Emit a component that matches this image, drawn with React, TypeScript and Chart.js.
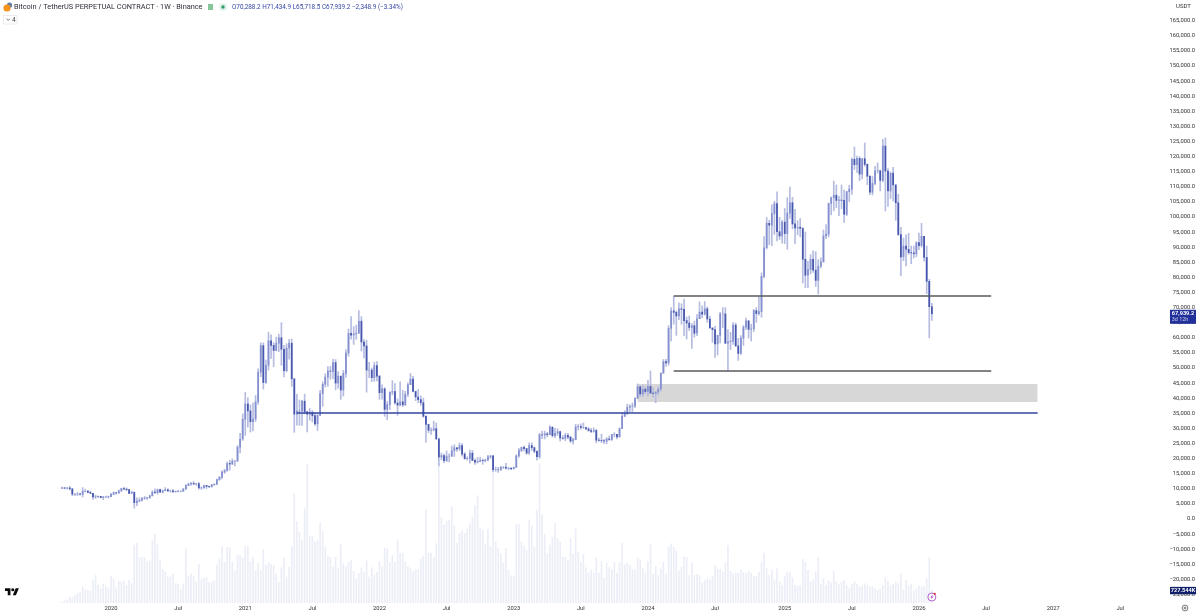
import React, { useEffect, useRef } from "react";
import { Chart, registerables } from "chart.js";

Chart.register(...registerables);

// weekly bars, first week starts 2019-08-26; prices in thousands of USDT
const firstWeek = "2019-08-26";
const opens = [
  10.2,10.3,10.2,10.3,10.0,8.2,8.2,8.3,8.2,9.2,
  9.2,8.8,8.5,7.3,7.4,7.5,7.1,7.3,7.3,7.4,
  8.2,8.7,8.6,9.3,10.1,9.9,9.7,8.5,8.9,5.4,
  5.9,6.2,6.8,6.9,7.1,7.7,8.9,8.7,9.7,8.9,
  9.4,9.7,9.3,9.3,9.0,9.1,9.2,9.2,9.9,11.1,
  11.6,11.8,11.6,11.7,10.3,10.3,11.1,10.8,10.7,11.3,
  11.5,13.0,13.8,15.5,16.0,18.4,18.2,19.2,19.2,23.8,
  26.5,33.0,38.1,35.8,32.2,33.1,38.8,48.6,57.4,45.2,
  50.9,59.0,57.5,55.8,58.2,60.0,56.2,49.1,56.6,58.2,
  46.4,34.7,35.7,35.8,39.0,35.5,34.7,35.3,34.2,31.5,
  34.3,41.5,44.6,47.0,49.0,48.9,51.8,45.0,47.3,42.7,
  48.2,54.9,61.5,60.9,61.3,61.5,65.5,58.6,57.3,49.3,
  49.3,46.8,50.8,47.3,41.8,43.1,36.3,37.9,42.0,42.2,
  38.4,37.7,38.8,37.8,41.3,44.5,46.3,42.2,40.4,39.5,
  38.5,34.0,31.3,29.4,29.4,29.9,26.5,20.5,21.0,19.3,
  20.8,20.8,22.6,23.6,23.2,24.3,21.5,20.0,20.0,21.8,
  19.4,18.8,19.0,19.4,19.3,19.6,20.6,20.9,16.3,16.3,
  16.4,17.1,17.1,16.8,16.8,16.6,17.1,20.9,22.7,23.7,
  23.3,21.8,24.3,23.6,22.4,20.6,27.9,27.8,28.2,27.9,
  30.4,27.6,28.4,28.9,26.8,26.7,27.7,27.1,25.8,26.3,
  30.5,30.6,30.3,30.3,29.8,29.3,29.0,29.3,26.1,26.0,
  25.9,25.8,26.5,26.3,28.0,28.0,27.2,29.9,34.0,35.0,
  37.0,37.3,37.4,39.9,43.8,41.4,43.0,42.2,43.9,41.7,
  41.6,42.0,43.0,48.3,52.1,51.7,63.1,68.9,68.4,67.2,
  69.6,69.4,65.7,64.9,63.4,64.0,61.5,66.3,68.5,67.8,
  69.6,66.2,63.2,62.7,58.0,60.8,67.9,67.9,58.2,58.7,
  58.9,64.2,57.3,54.8,59.9,63.5,65.6,62.8,62.9,69.0,
  68.0,68.7,80.3,89.8,97.9,97.3,101.1,104.4,95.1,93.7,
  98.3,94.5,101.3,104.7,97.7,96.4,96.6,96.2,86.0,80.7,
  82.6,86.0,82.4,79.0,83.7,85.1,93.7,94.3,104.5,106.4,
  107.2,105.5,105.6,105.5,100.9,108.4,109.2,119.1,117.3,119.4,
  114.2,119.3,117.4,113.5,108.2,111.1,115.3,115.3,112.1,123.5,
  115.2,108.6,114.5,110.6,104.7,94.2,86.8,90.4,89.3,88.2,
  88.1,87.8,91.5,90.5,93.6,86.6,78.7,70.2882,
];
const highs = [
  10.6,10.5,10.4,10.8,10.0,8.5,8.8,8.4,10.4,9.9,
  9.5,9.3,8.5,7.9,7.7,7.5,7.5,7.6,7.6,8.5,
  9.0,8.8,9.6,10.2,10.5,10.3,9.8,9.2,8.2,7.0,
  7.0,7.2,7.5,7.2,7.8,9.4,10.0,9.9,9.9,9.6,
  10.4,10.0,9.6,9.8,9.3,9.5,9.4,10.2,11.4,11.9,
  12.1,12.4,11.8,12.1,10.7,11.2,11.1,10.9,11.5,11.7,
  13.2,14.1,16.0,16.5,18.9,19.4,19.9,19.4,24.3,28.4,
  34.8,41.9,40.1,37.8,38.5,40.9,49.7,58.3,58.3,52.6,
  61.8,61.0,58.4,60.2,61.2,65.0,57.5,58.0,59.5,59.6,
  46.5,41.3,39.4,39.3,41.3,35.7,36.6,35.9,35.0,34.8,
  42.6,45.4,48.1,50.5,50.5,52.9,52.8,48.8,47.3,49.2,
  56.1,62.9,67.0,63.7,64.2,69.0,67.0,59.4,59.2,51.9,
  50.0,51.9,52.1,47.5,44.4,43.5,38.9,42.1,45.8,44.8,
  39.8,45.4,42.6,42.3,45.1,48.2,47.2,42.4,42.9,40.8,
  40.0,34.2,31.4,30.2,32.4,31.8,26.8,21.8,21.5,22.5,
  21.6,24.2,24.6,23.7,25.2,25.0,22.0,20.6,22.8,22.7,
  19.9,20.4,20.5,19.9,19.7,21.1,21.0,21.0,17.2,17.1,
  17.4,17.4,18.4,17.1,17.0,17.2,21.3,23.4,23.8,24.2,
  23.4,25.2,25.2,23.9,22.6,28.4,29.1,29.1,28.7,30.9,
  30.5,30.0,29.9,29.1,27.6,28.4,28.4,27.4,26.8,31.4,
  31.3,31.5,31.8,30.4,30.3,30.0,30.2,29.7,26.8,28.1,
  26.4,26.9,27.5,28.0,28.6,28.0,30.2,35.2,35.9,38.0,
  37.9,38.4,40.2,44.7,44.0,44.3,43.8,45.9,49.0,43.5,
  42.2,43.9,48.3,52.8,52.9,64.0,70.0,73.8,68.9,71.6,
  71.3,72.8,66.9,67.2,64.7,65.5,67.7,71.9,70.6,72.0,
  70.2,67.2,63.4,63.8,60.9,68.4,70.0,70.0,62.7,61.8,
  65.0,64.9,59.8,60.7,64.1,66.5,65.7,64.5,69.4,70.0,
  73.6,81.5,93.5,99.8,98.9,104.0,105.2,108.3,99.9,98.9,
  102.8,106.4,109.9,106.5,102.5,98.8,99.5,96.5,95.0,85.3,
  87.5,88.8,88.5,85.9,86.5,95.7,97.5,104.6,106.6,111.9,
  110.6,106.8,110.6,108.9,108.5,110.5,119.5,123.2,120.2,120.0,
  119.3,124.5,117.6,113.5,113.4,116.8,117.9,115.5,125.7,126.2,
  116.0,114.9,116.4,110.7,107.5,96.6,93.0,94.1,94.6,90.4,
  90.4,91.8,94.7,97.9,93.6,90.4,79.4,71.4349,
];
const lows = [
  10.0,10.0,9.9,9.6,7.7,7.7,7.8,7.9,7.3,9.0,
  8.7,8.4,6.5,6.8,7.1,7.0,6.4,7.1,6.9,7.4,
  8.0,8.2,8.5,9.1,9.7,9.3,8.4,8.4,3.6,4.4,
  5.7,5.9,6.5,6.5,6.8,7.6,8.5,8.2,8.8,8.6,
  9.3,9.1,8.9,8.9,8.9,9.0,9.0,9.1,9.9,11.0,
  11.1,11.4,11.1,9.9,9.8,10.2,10.1,10.4,10.5,11.2,
  11.4,12.8,13.3,15.1,15.8,16.2,18.0,17.6,19.0,21.9,
  26.0,27.7,30.4,28.8,29.2,32.3,37.9,47.1,43.0,44.9,
  49.3,53.2,50.4,55.7,55.4,50.9,47.0,48.7,52.9,43.9,
  28.7,31.1,31.0,31.0,34.8,28.8,32.7,32.1,31.0,29.3,
  34.3,37.3,43.7,43.9,46.3,46.5,42.8,43.3,39.6,40.7,
  46.9,53.9,59.5,57.8,59.5,61.5,55.6,53.3,42.0,46.8,
  45.5,45.6,45.7,39.6,39.7,34.0,32.9,36.2,41.1,38.0,
  34.3,37.4,37.2,37.6,40.5,44.5,42.1,39.2,38.5,37.6,
  33.7,25.4,28.6,28.0,29.2,26.4,17.6,19.6,18.6,19.0,
  18.9,20.7,20.7,22.4,22.7,20.8,19.8,19.5,18.5,19.3,
  18.1,18.5,19.0,18.1,18.9,19.2,20.0,15.6,15.8,15.4,
  16.0,16.7,16.5,16.3,16.3,16.6,17.1,20.4,22.3,22.5,
  21.4,21.4,22.7,21.9,19.5,20.1,26.6,26.5,27.2,27.9,
  27.1,26.9,27.7,25.8,26.4,25.9,26.5,25.3,24.8,26.2,
  29.5,29.7,30.0,29.5,29.0,28.6,28.7,25.2,25.8,25.3,
  24.9,24.9,26.0,26.0,27.2,26.5,27.1,29.9,33.9,34.5,
  35.5,35.6,36.9,39.9,40.5,40.5,41.4,40.7,41.5,40.3,
  38.5,41.0,42.3,48.2,50.5,50.9,59.0,64.5,60.8,66.0,
  64.5,60.7,59.6,62.4,56.5,60.2,60.7,66.3,66.6,67.5,
  65.1,63.4,58.5,53.5,54.3,58.3,63.4,58.0,49.0,56.1,
  57.8,57.2,52.5,54.5,57.5,62.7,59.9,58.9,62.0,65.1,
  67.5,66.8,79.8,89.4,90.8,90.5,94.2,92.1,92.5,91.3,
  91.2,89.3,99.5,96.1,91.2,94.1,93.4,78.2,76.6,76.6,
  81.1,81.6,77.0,74.5,83.1,85.1,92.8,93.4,100.7,102.0,
  103.1,100.4,102.7,98.2,100.4,105.1,107.5,115.7,114.7,112.0,
  112.6,116.8,110.7,107.4,107.3,110.6,114.5,108.6,111.6,102.0,
  103.5,106.1,105.3,98.9,93.8,80.6,85.5,83.8,87.6,84.5,
  86.4,86.8,89.2,90.0,85.4,74.6,60.0,65.7185,
];
const closes = [
  10.3,10.2,10.3,10.0,8.2,8.2,8.3,8.2,9.2,9.2,
  8.8,8.5,7.3,7.4,7.5,7.1,7.3,7.3,7.4,8.2,
  8.7,8.6,9.3,10.1,9.9,9.7,8.5,8.9,5.4,5.9,
  6.2,6.8,6.9,7.1,7.7,8.9,8.7,9.7,8.9,9.4,
  9.7,9.3,9.3,9.0,9.1,9.2,9.2,9.9,11.1,11.6,
  11.8,11.6,11.7,10.3,10.3,11.1,10.8,10.7,11.3,11.5,
  13.0,13.8,15.5,16.0,18.4,18.2,19.2,19.2,23.8,26.5,
  33.0,38.1,35.8,32.2,33.1,38.8,48.6,57.4,45.2,50.9,
  59.0,57.5,55.8,58.2,60.0,56.2,49.1,56.6,58.2,46.4,
  34.7,35.7,35.8,39.0,35.5,34.7,35.3,34.2,31.5,34.3,
  41.5,44.6,47.0,49.0,48.9,51.8,45.0,47.3,42.7,48.2,
  54.9,61.5,60.9,61.3,61.5,65.5,58.6,57.3,49.3,49.3,
  46.8,50.8,47.3,41.8,43.1,36.3,37.9,42.0,42.2,38.4,
  37.7,38.8,37.8,41.3,44.5,46.3,42.2,40.4,39.5,38.5,
  34.0,31.3,29.4,29.4,29.9,26.5,20.5,21.0,19.3,20.8,
  20.8,22.6,23.6,23.2,24.3,21.5,20.0,20.0,21.8,19.4,
  18.8,19.0,19.4,19.3,19.6,20.6,20.9,16.3,16.3,16.4,
  17.1,17.1,16.8,16.8,16.6,17.1,20.9,22.7,23.7,23.3,
  21.8,24.3,23.6,22.4,20.6,27.9,27.8,28.2,27.9,30.4,
  27.6,28.4,28.9,26.8,26.7,27.7,27.1,25.8,26.3,30.5,
  30.6,30.3,30.3,29.8,29.3,29.0,29.3,26.1,26.0,25.9,
  25.8,26.5,26.3,28.0,28.0,27.2,29.9,34.0,35.0,37.0,
  37.3,37.4,39.9,43.8,41.4,43.0,42.2,43.9,41.7,41.6,
  42.0,43.0,48.3,52.1,51.7,63.1,68.9,68.4,67.2,69.6,
  69.4,65.7,64.9,63.4,64.0,61.5,66.3,68.5,67.8,69.6,
  66.2,63.2,62.7,58.0,60.8,67.9,67.9,58.2,58.7,58.9,
  64.2,57.3,54.8,59.9,63.5,65.6,62.8,62.9,69.0,68.0,
  68.7,80.3,89.8,97.9,97.3,101.1,104.4,95.1,93.7,98.3,
  94.5,101.3,104.7,97.7,96.4,96.6,96.2,86.0,80.7,82.6,
  86.0,82.4,79.0,83.7,85.1,93.7,94.3,104.5,106.4,107.2,
  105.5,105.6,105.5,100.9,108.4,109.2,119.1,117.3,119.4,114.2,
  119.3,117.4,113.5,108.2,111.1,115.3,115.3,112.1,123.5,115.2,
  108.6,114.5,110.6,104.7,94.2,86.8,90.4,89.3,88.2,88.1,
  87.8,91.5,90.5,93.6,86.6,78.7,70.3,67.9392,
];
// weekly volume in millions
const volumes = [
  .06,.12,.19,.35,.31,.44,.54,.60,.93,.77,
  .73,.69,1.31,1.60,1.02,.83,1.08,.97,.83,1.56,
  1.41,.89,1.25,1.22,1.27,1.02,1.31,1.12,3.36,3.47,
  2.62,2.66,2.62,2.37,2.43,3.63,3.98,3.40,2.51,1.93,
  1.79,1.51,1.54,1.70,1.12,1.08,.77,1.12,3.15,1.54,
  1.70,1.56,1.22,2.24,1.35,1.45,1.47,1.18,1.22,1.31,
  2.20,2.59,3.28,2.37,3.24,3.20,2.37,1.85,2.78,2.74,
  2.62,3.28,3.28,2.41,2.66,1.89,2.30,1.89,3.11,2.18,
  2.34,2.24,2.20,1.66,1.18,2.05,2.59,1.51,2.08,3.28,
  6.33,4.73,4.11,3.63,5.52,8.07,3.86,3.90,3.53,3.63,
  4.65,4.17,3.24,2.70,2.66,2.08,2.66,1.99,3.40,2.28,
  2.08,2.35,2.47,1.83,1.41,1.70,2.05,1.76,2.47,1.51,
  2.05,1.60,1.79,2.41,2.12,3.20,3.15,2.37,2.76,2.37,
  3.67,2.90,2.90,2.37,2.12,1.99,1.83,1.93,1.93,2.53,
  2.72,5.40,2.90,2.90,2.66,3.44,8.41,4.94,4.54,4.75,
  4.79,5.60,4.46,3.47,4.05,4.21,4.05,4.30,4.59,4.98,
  5.65,6.23,4.30,4.21,3.38,4.27,3.28,7.71,3.57,3.17,
  2.86,2.32,3.17,1.89,1.58,1.58,4.54,4.55,3.53,3.28,
  3.05,4.83,4.46,3.24,5.40,8.07,5.13,3.98,2.86,3.36,
  3.82,4.63,3.73,3.53,2.66,2.66,2.47,3.76,2.86,4.30,
  2.95,2.37,2.82,2.05,1.74,1.93,1.74,2.61,1.74,2.43,
  1.45,2.32,2.05,1.93,2.37,1.74,2.37,3.47,2.24,2.32,
  2.18,1.93,1.93,2.61,2.51,1.99,1.79,2.41,3.38,1.66,
  2.12,1.60,1.99,2.37,1.66,3.28,3.44,3.24,3.01,1.85,
  2.08,2.66,2.66,1.60,2.32,1.60,1.66,1.60,1.16,1.31,
  1.41,1.35,1.54,2.18,1.97,1.95,1.79,2.32,3.34,1.85,
  1.70,1.74,1.74,1.93,1.79,1.70,1.83,1.74,1.54,1.54,
  1.79,2.37,2.90,1.99,1.60,1.89,1.35,1.99,1.22,1.02,
  1.54,1.79,1.79,1.49,1.02,.97,1.02,2.53,2.37,1.89,
  1.22,1.31,1.79,2.66,1.08,1.41,1.02,1.31,1.16,1.83,
  1.22,1.08,1.22,1.31,1.02,.83,1.08,1.22,1.08,.93,
  .97,1.12,1.02,.93,.93,.83,.73,.83,1.02,1.47,
  1.27,1.02,1.08,1.22,1.12,1.70,.77,1.31,1.00,1.08,
  .69,.83,.97,.93,.97,1.41,2.66,.7275,
];

const xTickDates = ["2020-01-06","2020-07-06","2021-01-04","2021-07-05","2022-01-03","2022-07-04","2023-01-02","2023-07-03","2024-01-01","2024-07-01","2025-01-06","2025-07-07","2026-01-05","2026-07-06","2027-01-04","2027-07-05"];
const xTickLabels = ["2020","Jul","2021","Jul","2022","Jul","2023","Jul","2024","Jul","2025","Jul","2026","Jul","2027","Jul"];
const yTicks = [165000,160000,155000,150000,145000,140000,135000,130000,125000,120000,115000,110000,105000,100000,95000,90000,85000,80000,75000,70000,65000,60000,55000,50000,45000,40000,35000,30000,25000,20000,15000,10000,5000,0,-5000,-10000,-15000,-20000,-25000];

const levelA = { price: 73840, from: "2024-03-11", to: "2026-07-20" };
const levelB = { price: 49000, from: "2024-03-11", to: "2026-07-20" };
const levelC = { price: 35100, from: "2021-05-24", to: "2026-11-23" };
const zone = { top: 44700, bottom: 38740, from: "2023-12-04", to: "2026-11-23" };

const titleText = "Bitcoin / TetherUS PERPETUAL CONTRACT · 1W · Binance";
const ohlcText = "O70,288.2 H71,434.9 L65,718.5 C67,939.2 −2,348.9 (−3.34%)";
const lastPrice = 67939.2;
const lastPriceText = "67,939.2";
const countdownText = "3d 12h";
const lastVolume = 0.7275;
const lastVolumeText = "727.544K";
const currencyText = "USDT";
const studyCountText = "4";

const weekOf = (d: string) => (Date.parse(d) - Date.parse(firstWeek)) / (7 * 864e5);
const fmt = (v: number) => (v < 0 ? "−" : "") + Math.abs(v).toLocaleString("en-US", { minimumFractionDigits: 1, maximumFractionDigits: 1 });
const FONT = "Roboto, 'Noto Sans', sans-serif";

const overlayPlugin = {
  id: "tvOverlay",
  afterDraw(chart: any) {
    const c = chart.ctx as CanvasRenderingContext2D;
    const y = chart.scales.y;
    const v = chart.scales.y1;
    const x = chart.scales.x;
    c.save();
    c.textBaseline = "middle";
    // symbol icon
    c.fillStyle = "#5b7fa6";
    c.beginPath(); c.arc(9.5, 5.2, 2.6, 0, 7); c.fill();
    c.fillStyle = "#f7931a";
    c.beginPath(); c.arc(7, 8, 3.6, 0, 7); c.fill();
    // title
    c.textAlign = "left";
    c.font = `7.35px ${FONT}`;
    c.fillStyle = "#2a2e39";
    c.fillText(titleText, 14, 7.5);
    c.fillStyle = "#86c79a";
    c.fillRect(208, 4, 5, 6);
    c.fillStyle = "#e3f3ea";
    c.beginPath(); c.arc(223, 7, 4, 0, 7); c.fill();
    c.fillStyle = "#2e9e6b";
    c.beginPath(); c.arc(223, 7, 1.7, 0, 7); c.fill();
    c.font = `6.35px ${FONT}`;
    c.fillStyle = "#3346a6";
    c.fillText(ohlcText, 232, 7.5);
    // collapse box
    c.strokeStyle = "#e4e6ec";
    c.lineWidth = 0.8;
    c.strokeRect(3.5, 15.5, 13.5, 8.5);
    c.strokeStyle = "#555";
    c.beginPath(); c.moveTo(6.5, 18.7); c.lineTo(8.2, 20.4); c.lineTo(9.9, 18.7); c.stroke();
    c.fillStyle = "#444";
    c.font = `6.5px ${FONT}`;
    c.fillText(studyCountText, 12, 20);
    // currency
    c.fillStyle = "#333";
    c.font = `6px ${FONT}`;
    c.fillText(currencyText, 1176, 6.5);
    // last price label
    const py = y.getPixelForValue(lastPrice);
    c.fillStyle = "#21309a";
    c.fillRect(1170, py - 4, 26, 14);
    c.textAlign = "center";
    c.fillStyle = "#ffffff";
    c.font = `bold 5.6px ${FONT}`;
    c.fillText(lastPriceText, 1183, py);
    c.fillStyle = "#cdd3ee";
    c.font = `5.4px ${FONT}`;
    c.fillText(countdownText, 1180, py + 6);
    // last volume label
    const vy = v.getPixelForValue(lastVolume);
    c.fillStyle = "#10206a";
    c.fillRect(1170, vy - 3.6, 26, 7.4);
    c.fillStyle = "#ffffff";
    c.font = `bold 5.6px ${FONT}`;
    c.fillText(lastVolumeText, 1183, vy + 0.2);
    // logo
    c.save();
    c.translate(5, 586.6);
    c.scale(0.39, 0.39);
    c.fillStyle = "#0b0b0f";
    c.fill(new Path2D("M14 22H7V11H0V4h14v18zM28 22h-8l7.5-18h8L28 22z"));
    c.beginPath(); c.arc(20, 8, 4, 0, 7); c.fill();
    c.restore();
    // settings icon
    c.strokeStyle = "#444";
    c.lineWidth = 0.7;
    c.beginPath(); c.arc(1185, 608, 2.9, 0, 7); c.stroke();
    c.beginPath(); c.arc(1185, 608, 1, 0, 7); c.stroke();
    // event marker on the last bar
    const mx = x.getPixelForValue(closes.length - 1);
    c.fillStyle = "#ffffff";
    c.beginPath(); c.arc(mx, 597, 4.2, 0, 7); c.fill();
    c.strokeStyle = "#a94fc7";
    c.lineWidth = 0.9;
    c.beginPath(); c.arc(mx, 597, 4, 0, 7); c.stroke();
    c.fillStyle = "#a94fc7";
    c.beginPath(); c.moveTo(mx + 0.8, 594.4); c.lineTo(mx - 1.6, 597.4); c.lineTo(mx - 0.1, 597.4); c.lineTo(mx - 0.8, 599.6); c.lineTo(mx + 1.6, 596.6); c.lineTo(mx + 0.1, 596.6); c.closePath(); c.fill();
    c.fillStyle = "#e5333b";
    c.beginPath(); c.arc(mx + 2.9, 593.8, 1.1, 0, 7); c.fill();
    c.restore();
  },
};

export default function App() {
  const ref = useRef<HTMLCanvasElement>(null);
  useEffect(() => {
    const idx = closes.map((_, i) => i);
    const flat = (price: number, from: string, to: string) => [
      { x: weekOf(from), y: price },
      { x: weekOf(to), y: price },
    ];
    const lineStyle = { type: "line" as const, pointRadius: 0, fill: false, tension: 0, yAxisID: "y" };
    const chart = new Chart(ref.current!, {
      type: "bar",
      data: {
        datasets: [
          {
            ...lineStyle, label: "levelA", data: flat(levelA.price, levelA.from, levelA.to),
            borderColor: "#5a5a5e", borderWidth: 1.6, order: 0,
          },
          {
            ...lineStyle, label: "levelB", data: flat(levelB.price, levelB.from, levelB.to),
            borderColor: "#5a5a5e", borderWidth: 1.6, order: 0,
          },
          {
            ...lineStyle, label: "levelC", data: flat(levelC.price, levelC.from, levelC.to),
            borderColor: "#34459f", borderWidth: 1.3, order: 0,
          },
          {
            type: "bar", label: "bodies", yAxisID: "y", order: 1, grouped: false, barThickness: 1.1,
            data: idx.map((i) => ({ x: i, y: [Math.min(opens[i], closes[i]) * 1000, Math.max(opens[i], closes[i]) * 1000] })),
            backgroundColor: idx.map((i) => (closes[i] < opens[i] ? "#4757ad" : "#8490cf")),
          },
          {
            type: "bar", label: "wicks", yAxisID: "y", order: 2, grouped: false, barThickness: 1,
            data: idx.map((i) => ({ x: i, y: [lows[i] * 1000, highs[i] * 1000] })),
            backgroundColor: "#b5bce0",
          },
          {
            ...lineStyle, label: "zone", data: flat(zone.top, zone.from, zone.to),
            borderWidth: 0, borderColor: "rgba(0,0,0,0)", backgroundColor: "#d7d7d7",
            fill: { value: zone.bottom }, order: 3,
          },
          {
            type: "bar", label: "volume", yAxisID: "y1", order: 4, grouped: false, barThickness: 1,
            data: idx.map((i) => ({ x: i, y: volumes[i] })),
            backgroundColor: "#eceef7",
          },
        ] as any,
      },
      options: {
        animation: false,
        responsive: false,
        devicePixelRatio: 1,
        parsing: undefined,
        layout: { padding: { right: 5, left: 0, top: 0, bottom: 0 } },
        plugins: { legend: { display: false }, tooltip: { enabled: false }, title: { display: false } },
        scales: {
          x: {
            type: "linear",
            min: -24.02,
            max: 428.1,
            grid: { display: false, drawTicks: false },
            border: { display: false },
            offset: false,
            afterBuildTicks: (axis: any) => {
              axis.ticks = xTickDates.map((d) => ({ value: weekOf(d) }));
            },
            afterFit: (axis: any) => { axis.height = 11; axis.paddingLeft = 0; axis.paddingRight = 0; },
            ticks: {
              autoSkip: false, maxRotation: 0, minRotation: 0, padding: 2,
              font: { size: 5.8, family: FONT }, color: "#333",
              callback: (val: any) => {
                const at = xTickDates.findIndex((d) => Math.abs(weekOf(d) - Number(val)) < 0.01);
                return at >= 0 ? xTickLabels[at] : "";
              },
            },
          },
          y: {
            type: "linear",
            position: "right",
            min: -27815,
            max: 171840,
            grid: { display: false, drawTicks: false },
            border: { display: false },
            afterBuildTicks: (axis: any) => { axis.ticks = yTicks.map((value) => ({ value })); },
            afterFit: (axis: any) => { axis.width = 28; axis.paddingTop = 0; axis.paddingBottom = 0; },
            ticks: {
              autoSkip: false, padding: 1, crossAlign: "far",
              font: { size: 5.8, family: FONT }, color: "#333",
              callback: (val: any) => fmt(Number(val)),
            },
          },
          y1: { type: "linear", position: "left", display: false, min: 0, max: 35 },
        },
      } as any,
      plugins: [overlayPlugin],
    });
    return () => chart.destroy();
  }, []);
  return (
    <div style={{ position: "fixed", left: 0, top: 0, width: 1200, height: 614, background: "#fff" }}>
      <canvas ref={ref} width={1200} height={614} style={{ display: "block", width: 1200, height: 614, filter: "blur(0.3px)" }} />
    </div>
  );
}
